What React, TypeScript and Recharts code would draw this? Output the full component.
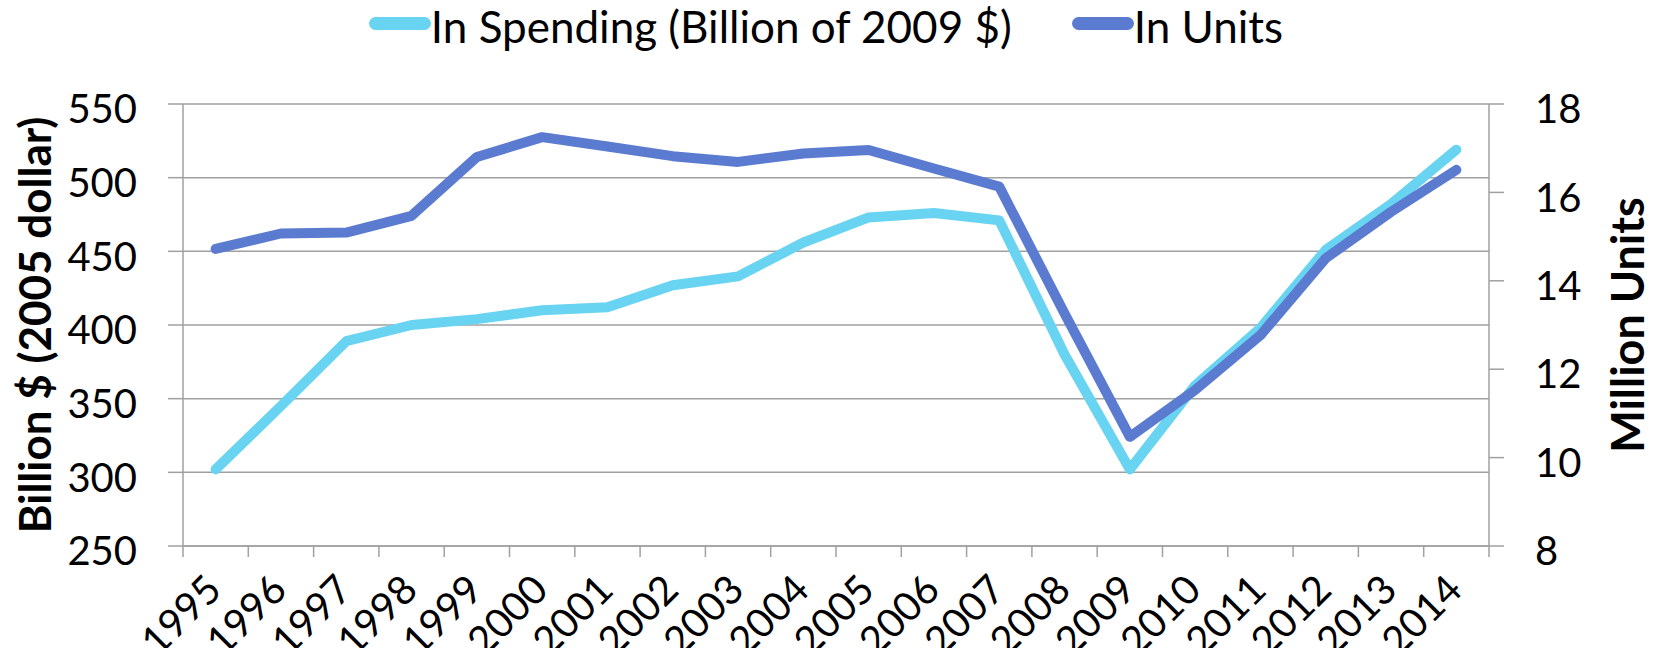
import { LineChart, Line, XAxis, YAxis, CartesianGrid, Legend, Label } from 'recharts';

// values
const years = [
  '1995', '1996', '1997', '1998', '1999', '2000', '2001', '2002', '2003', '2004',
  '2005', '2006', '2007', '2008', '2009', '2010', '2011', '2012', '2013', '2014',
];
const spending = [302, 345, 389, 400, 404, 410, 412, 427, 433, 456, 473, 476, 471, 380, 302, 359, 398, 451, 482, 519];
const units = [14.72, 15.07, 15.09, 15.47, 16.8, 17.25, 17.04, 16.82, 16.69, 16.88, 16.96, 16.54, 16.13, 13.26, 10.47, 11.53, 12.77, 14.51, 15.56, 16.51];
const leftTicks = [250, 300, 350, 400, 450, 500, 550];
const rightTicks = [8, 10, 12, 14, 16, 18];

const data = years.map((year, i) => ({ year, spending: spending[i], units: units[i] }));

const W = 1658;
const H = 648;
const LEFT_W = 183;
const RIGHT_W = 169;
const TOP = 104;
const X_H = 102;
const FONT = 'Lato, "Open Sans", sans-serif';
const GRID = '#a0a0a0';
const LIGHT = '#68d4f1';
const DARK = '#5b7bd0';

const HALF_BAND = (W - LEFT_W - RIGHT_W) / years.length / 2;

function YearTick(props: any) {
  const { x, y, payload, index } = props;
  const tx = x + 8;
  const ty = y + 35;
  return (
    <g>
      {/* Excel puts the ticks between categories */}
      <line x1={x - HALF_BAND} x2={x - HALF_BAND} y1={y - 11} y2={y} stroke={GRID} strokeWidth={1.5} />
      {index === years.length - 1 && (
        <line x1={x + HALF_BAND} x2={x + HALF_BAND} y1={y - 11} y2={y} stroke={GRID} strokeWidth={1.5} />
      )}
      <text
        x={tx}
        y={ty}
        transform={`rotate(-45, ${tx}, ${ty})`}
        textAnchor="end"
        fontSize={40}
        fontFamily={FONT}
        fill="#000"
      >
        {payload.value}
      </text>
    </g>
  );
}

const axisTitle = (text: string, inset: number, size: number) => (props: any) => {
  const { viewBox } = props;
  const cx = viewBox.x + inset;
  const cy = viewBox.y + viewBox.height / 2;
  return (
    <text
      x={cx}
      y={cy}
      transform={`rotate(-90, ${cx}, ${cy})`}
      textAnchor="middle"
      dominantBaseline="central"
      fontSize={size}
      fontWeight="bold"
      fontFamily={FONT}
      fill="#000"
    >
      {text}
    </text>
  );
};

function LegendContent(props: any) {
  const items = props.payload || [];
  return (
    <div
      style={{
        display: 'flex',
        justifyContent: 'center',
        paddingRight: 6,
        fontFamily: FONT,
        fontSize: 44,
        lineHeight: 'normal',
        color: '#000',
      }}
    >
      {items.map((it: any, i: number) => (
        <div key={it.value} style={{ display: 'flex', alignItems: 'flex-start', marginLeft: i ? 60 : 0 }}>
          <span
            style={{ display: 'inline-block', width: 62, height: 13, borderRadius: 7, background: it.color, marginTop: 17 }}
          />
          <span>{it.value}</span>
        </div>
      ))}
    </div>
  );
}

export default function App() {
  const tickStyle = { fontSize: 40, fill: '#000', fontFamily: FONT, dy: 5 };
  const axisStroke = { stroke: GRID, strokeWidth: 1.5 };
  return (
    <div style={{ position: 'absolute', left: 0, top: 0, width: W, height: H, background: '#fff' }}>
      <LineChart width={W} height={H} data={data} margin={{ top: TOP, right: 0, bottom: 0, left: 0 }}>
        <CartesianGrid yAxisId="left" vertical={false} stroke={GRID} strokeWidth={1.5} />
        <XAxis
          dataKey="year"
          scale="band"
          height={X_H}
          interval={0}
          tickLine={false}
          tickSize={11}
          tickMargin={0}
          axisLine={axisStroke}
          tick={<YearTick />}
        />
        <YAxis
          yAxisId="left"
          width={LEFT_W}
          domain={[250, 550]}
          ticks={leftTicks}
          tickSize={15}
          tickMargin={31}
          tick={tickStyle}
          tickLine={axisStroke}
          axisLine={axisStroke}
        >
          <Label content={axisTitle('Billion $ (2005 dollar)', 34, 44)} />
        </YAxis>
        <YAxis
          yAxisId="right"
          orientation="right"
          width={RIGHT_W}
          domain={[8, 18]}
          ticks={rightTicks}
          tickSize={15}
          tickMargin={31}
          tick={tickStyle}
          tickLine={axisStroke}
          axisLine={axisStroke}
        >
          <Label content={axisTitle('Million Units', 138, 45)} />
        </YAxis>
        <Legend
          verticalAlign="middle"
          align="center"
          layout="horizontal"
          wrapperStyle={{ top: 0, left: 0, width: W }}
          content={<LegendContent />}
        />
        <Line
          yAxisId="left"
          type="linear"
          dataKey="spending"
          name="In Spending (Billion of 2009 $)"
          stroke={LIGHT}
          strokeWidth={10}
          strokeLinecap="round"
          strokeLinejoin="round"
          dot={false}
          isAnimationActive={false}
        />
        <Line
          yAxisId="right"
          type="linear"
          dataKey="units"
          name="In Units"
          stroke={DARK}
          strokeWidth={10}
          strokeLinecap="round"
          strokeLinejoin="round"
          dot={false}
          isAnimationActive={false}
        />
      </LineChart>
    </div>
  );
}
